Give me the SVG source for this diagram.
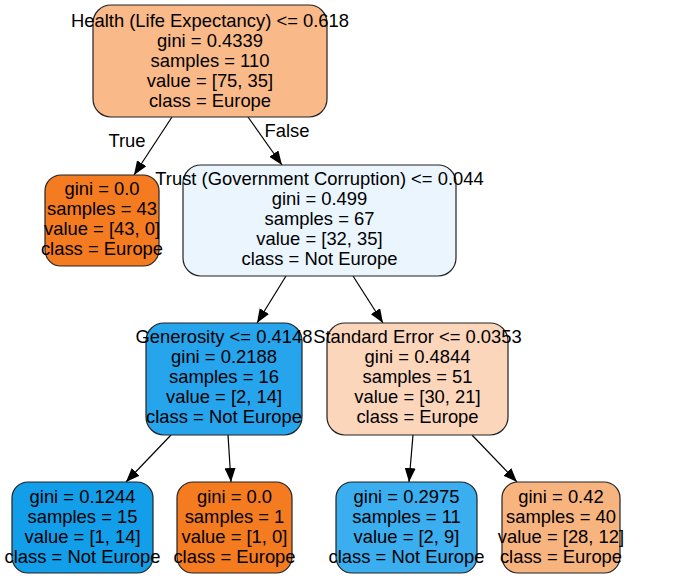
<svg xmlns="http://www.w3.org/2000/svg" width="684" height="584" viewBox="0 0 684 584">
<style>
.n{stroke:#222;stroke-width:1.2}
text{font-family:"Liberation Sans",Arial,sans-serif;font-size:18.4px;fill:#000;text-anchor:middle}
.e{stroke:#000;stroke-width:1.2;fill:none;marker-end:url(#ah)}
</style>
<defs>
<marker id="ah" markerUnits="userSpaceOnUse" markerWidth="14" markerHeight="11" refX="14" refY="5.5" orient="auto">
<path d="M0,0 L14,5.5 L0,11 z" fill="#000"/>
</marker>
</defs>
<rect width="684" height="584" fill="#fff"/>
<g id="edges">
<line class="e" x1="172" y1="117" x2="134" y2="175"/>
<line class="e" x1="248" y1="117" x2="282" y2="165"/>
<line class="e" x1="286" y1="276" x2="257" y2="323"/>
<line class="e" x1="353" y1="276" x2="383" y2="323"/>
<line class="e" x1="171" y1="435" x2="126" y2="482"/>
<line class="e" x1="228" y1="435" x2="231" y2="482"/>
<line class="e" x1="413" y1="435" x2="409" y2="482"/>
<line class="e" x1="472" y1="435" x2="517" y2="482"/>
<text x="127" y="147">True</text>
<text x="287" y="137">False</text>
</g>
<g id="n0">
<rect class="n" x="93" y="5" width="234" height="112" rx="18" fill="#f9b988"/>
<text x="210" y="26.5">Health (Life Expectancy) &lt;= 0.618</text>
<text x="210" y="46.5">gini = 0.4339</text>
<text x="210" y="66.5">samples = 110</text>
<text x="210" y="86.5">value = [75, 35]</text>
<text x="210" y="106.5">class = Europe</text>
</g>
<g id="n1">
<rect class="n" x="45" y="175" width="114" height="91" rx="16" fill="#f47b20"/>
<text x="102" y="195">gini = 0.0</text>
<text x="102" y="215">samples = 43</text>
<text x="102" y="235">value = [43, 0]</text>
<text x="102" y="255">class = Europe</text>
</g>
<g id="n2">
<rect class="n" x="183" y="165" width="273" height="111" rx="18" fill="#eaf5fe"/>
<text x="319.5" y="185">Trust (Government Corruption) &lt;= 0.044</text>
<text x="319.5" y="205">gini = 0.499</text>
<text x="319.5" y="225">samples = 67</text>
<text x="319.5" y="245">value = [32, 35]</text>
<text x="319.5" y="265">class = Not Europe</text>
</g>
<g id="n3">
<rect class="n" x="146" y="323" width="156" height="112" rx="18" fill="#26a4ec"/>
<text x="224" y="343">Generosity &lt;= 0.4148</text>
<text x="224" y="363">gini = 0.2188</text>
<text x="224" y="383">samples = 16</text>
<text x="224" y="403">value = [2, 14]</text>
<text x="224" y="423">class = Not Europe</text>
</g>
<g id="n4">
<rect class="n" x="327" y="323" width="181" height="112" rx="18" fill="#fcd6bb"/>
<text x="417.5" y="343">Standard Error &lt;= 0.0353</text>
<text x="417.5" y="363">gini = 0.4844</text>
<text x="417.5" y="383">samples = 51</text>
<text x="417.5" y="403">value = [30, 21]</text>
<text x="417.5" y="423">class = Europe</text>
</g>
<g id="n5">
<rect class="n" x="12" y="482" width="141" height="91" rx="16" fill="#129ee8"/>
<text x="82.5" y="503">gini = 0.1244</text>
<text x="82.5" y="523">samples = 15</text>
<text x="82.5" y="543">value = [1, 14]</text>
<text x="82.5" y="563">class = Not Europe</text>
</g>
<g id="n6">
<rect class="n" x="177" y="482" width="115" height="91" rx="16" fill="#f47b20"/>
<text x="234.5" y="503">gini = 0.0</text>
<text x="234.5" y="523">samples = 1</text>
<text x="234.5" y="543">value = [1, 0]</text>
<text x="234.5" y="563">class = Europe</text>
</g>
<g id="n7">
<rect class="n" x="336" y="482" width="141" height="91" rx="16" fill="#3aaeee"/>
<text x="406.5" y="503">gini = 0.2975</text>
<text x="406.5" y="523">samples = 11</text>
<text x="406.5" y="543">value = [2, 9]</text>
<text x="406.5" y="563">class = Not Europe</text>
</g>
<g id="n8">
<rect class="n" x="502" y="482" width="118" height="91" rx="16" fill="#f8b47f"/>
<text x="561" y="503">gini = 0.42</text>
<text x="561" y="523">samples = 40</text>
<text x="561" y="543">value = [28, 12]</text>
<text x="561" y="563">class = Europe</text>
</g>
</svg>
